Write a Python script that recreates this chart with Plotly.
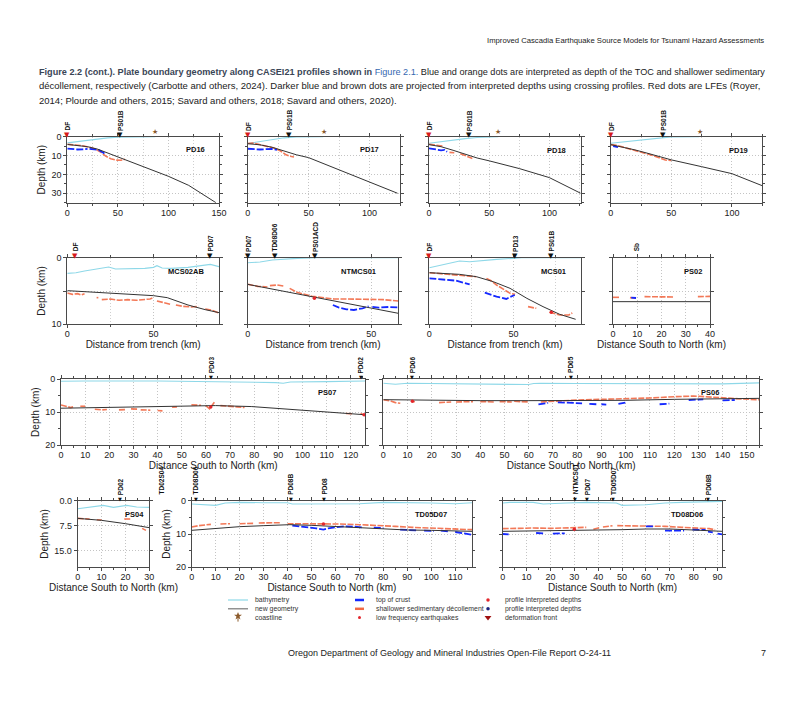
import plotly.graph_objects as go

W, H = 800, 703

# ---------------- data (km along profile, depth km) ----------------
# PD16
pd16_bathy_x = [0, 10, 20, 30, 40, 50, 60, 87]
pd16_bathy_d = [3.3, 2.6, 1.9, 1.2, 0.6, 0.2, 0.05, 0]
pd16_geom_x = [0, 10, 20, 30, 40, 50, 60, 80, 100, 120, 147]
pd16_geom_d = [4.1, 4.5, 5.3, 6.6, 8.6, 10.8, 12.9, 16.8, 21.0, 25.8, 35.0]
pd16_sed_x = [0, 8, 15, 22, 28, 33, 38, 43, 48, 53, 57]
pd16_sed_d = [4.0, 4.3, 4.8, 5.6, 6.6, 8.2, 10.3, 11.7, 12.4, 12.5, 12.0]
pd16_toc_x = [0, 5, 10, 15, 20, None, 22, 27, 31, 34, 37]
pd16_toc_d = [6.3, 6.6, 6.8, 6.7, 6.4, None, 6.5, 6.6, 7.0, 8.0, 9.0]
pd16_cross_names = ["DF", "PS01B"]
pd16_cross_x = [0, 52]
pd16_coast_x = [86.7]

# PD17
pd17_bathy_x = [0, 10, 20, 30, 40, 62]
pd17_bathy_d = [3.6, 2.6, 1.5, 0.6, 0.1, 0]
pd17_geom_x = [0, 10, 20, 25, 30, 40, 50, 75, 100, 123]
pd17_geom_d = [3.7, 4.3, 5.6, 6.6, 7.8, 9.6, 11.1, 17.5, 24.0, 30.0]
pd17_sed_x = [0, 4, 8, 12, 17, 22, 27, 31, 35, 38]
pd17_sed_d = [3.6, 3.4, 3.9, 4.6, 5.3, 6.1, 7.6, 9.4, 10.4, 10.8]
pd17_toc_x = [0, 5, 10, 15, 20, 24]
pd17_toc_d = [6.4, 6.6, 6.8, 6.6, 6.5, 7.0]
pd17_cross_names = ["DF", "PS01B"]
pd17_cross_x = [0, 34]
pd17_coast_x = [62.4]

# PD18
pd18_bathy_x = [0, 10, 20, 30, 40, 50, 57.6]
pd18_bathy_d = [3.5, 2.6, 1.7, 1.0, 0.4, 0.05, 0]
pd18_geom_x = [0, 10, 20, 30, 40, 50, 75, 100, 126]
pd18_geom_d = [4.2, 5.3, 7.2, 9.4, 11.3, 12.8, 16.9, 21.7, 30.0]
pd18_sed_x = [0, 4, 8, 12, None, 17, 21, None, 26, 30, 34, 36]
pd18_sed_d = [4.0, 4.3, 4.6, 5.0, None, 8.3, 8.5, None, 9.0, 9.8, 11.0, 11.5]
pd18_toc_x = [0, 5, 10, 13, 15]
pd18_toc_d = [6.2, 6.8, 7.2, 7.0, 8.0]
pd18_cross_names = ["DF", "PS01B"]
pd18_cross_x = [0, 33.2]
pd18_coast_x = [57.6]

# PD19
pd19_bathy_x = [0, 10, 20, 30, 40, 50, 73]
pd19_bathy_d = [3.5, 2.8, 2.0, 1.2, 0.6, 0.1, 0]
pd19_geom_x = [0, 10, 20, 30, 40, 50, 75, 100, 125]
pd19_geom_d = [4.2, 5.5, 7.0, 8.7, 10.5, 12.3, 15.9, 19.6, 26.0]
pd19_sed_x = [0, 5, 10, 15, 20, 25, 30, 35, 40, 45, 50]
pd19_sed_d = [4.2, 4.6, 5.5, 6.4, 7.1, 8.0, 9.2, 10.0, 11.2, 12.4, 12.6]
pd19_toc_x = [2, 4, 6]
pd19_toc_d = [5.0, 5.3, 5.5]
pd19_cross_names = ["DF", "PS01B"]
pd19_cross_x = [0, 43.5]
pd19_coast_x = [73.3]

# MCS02AB
mcs02ab_bathy_x = [0, 5, 10, 15, 20, 24, 28, 35, 45, 50, 52, 55, 60, 70, 80, 83, 88]
mcs02ab_bathy_d = [2.35, 2.25, 2.0, 1.75, 1.6, 1.4, 1.7, 1.65, 1.6, 1.45, 1.2, 1.55, 1.6, 1.45, 1.1, 1.0, 1.35]
mcs02ab_geom_x = [0, 20, 40, 50, 58, 65, 70, 80, 88]
mcs02ab_geom_d = [4.95, 5.25, 5.55, 5.7, 6.0, 6.6, 7.1, 7.8, 8.25]
mcs02ab_sed_x = [0, 3, 6, 8, 10, None, 17, 18, None, 20, 25, 30, 35, 40, 45, 48, 50, None,
                 52, 56, 60, None, 63, 67, 72, 76, None, 80, 84, 88]
mcs02ab_sed_d = [5.3, 5.5, 5.4, 5.6, 5.4, None, 6.0, 6.0, None, 6.3, 6.2, 6.4, 6.3, 6.4, 6.3, 6.2, 6.0, None,
                 6.5, 6.8, 7.0, None, 7.1, 7.3, 7.4, 7.3, None, 7.7, 7.9, 8.3]
mcs02ab_cross_names = ["DF", "PD07"]
mcs02ab_cross_x = [4.5, 83]

# NTMCS01
ntmcs01_bathy_x = [0, 5, 10, 15, 20, 28, 61]
ntmcs01_bathy_d = [0.75, 0.65, 0.35, 0.2, 0.1, 0.0, 0.0]
ntmcs01_geom_x = [0, 30, 61]
ntmcs01_geom_d = [4.0, 6.1, 8.35]
ntmcs01_sed_x = [0, 4, 8, None, 9, 12, 15, None, 17, 20, 26, 30, 35, 40, 45, 50, 55, 61]
ntmcs01_sed_d = [4.0, 4.3, 4.4, None, 4.2, 4.1, 4.3, None, 4.6, 5.2, 5.8, 6.0, 6.2, 6.2, 6.2, 6.2, 6.3, 6.5]
ntmcs01_toc_x = [34.5, 37, 40, 43, 46.5, 49, None, 50.5, 53, 57, 61]
ntmcs01_toc_d = [7.1, 7.5, 7.75, 7.85, 7.6, 7.3, None, 7.4, 7.5, 7.4, 7.45]
ntmcs01_lfe_x = [27]
ntmcs01_lfe_d = [6.1]
ntmcs01_cross_names = ["PD07", "TD08D06", "PS01ACD"]
ntmcs01_cross_x = [0, 11, 27.4]

# MCS01
mcs01_bathy_x = [0, 6, 12, 18, 24, 32, 40, 50, 55, 90]
mcs01_bathy_d = [1.5, 1.2, 0.85, 0.5, 0.6, 0.4, 0.25, 0.1, 0.0, 0.0]
mcs01_geom_x = [0, 18, 28, 38, 48, 58, 67.6, 77.5, 87]
mcs01_geom_d = [2.25, 2.5, 2.85, 3.6, 4.6, 6.1, 7.35, 8.5, 9.25]
mcs01_sed_x = [0, 8, 18, 28, None, 34, 37, 40, 43, 48, 51, None, 58.7, 61, 63.6, None,
               71.5, 74, 77.5, 80, 83, 85]
mcs01_sed_d = [2.25, 2.4, 2.6, 2.85, None, 3.1, 3.5, 4.1, 4.6, 5.35, 5.5, None, 7.35, 7.5, 7.6, None,
               8.2, 8.4, 8.6, 8.6, 8.6, 8.3]
mcs01_toc_x = [0, 8, 16, 24, None, 33, 37, 40, 43, 45.8, 48, 50.8]
mcs01_toc_d = [3.1, 3.25, 3.45, 4.0, None, 5.25, 5.6, 5.85, 6.0, 6.2, 5.9, 5.6]
mcs01_lfe_x = [72.5]
mcs01_lfe_d = [8.2]
mcs01_cross_names = ["DF", "PD13", "PS01B"]
mcs01_cross_x = [0, 50.8, 72.5]

# PS02
ps02_geom_x = [0, 20, 40]
ps02_geom_d = [6.6, 6.6, 6.6]
ps02_sed_x = [0, 3, None, 7, 10, None, 13, 18, 25, None, 35, 40]
ps02_sed_d = [5.95, 5.95, None, 6.0, 6.1, None, 5.85, 5.85, 5.9, None, 5.85, 5.8]
ps02_toc_x = [7.5, 9.5]
ps02_toc_d = [6.0, 6.05]
ps02_cross_names = ["Sb"]
ps02_cross_x = [9.75]

# PS07
ps07_bathy_x = [0, 5, 10, 40, 60, 85, 89, 92, 95, 110, 126]
ps07_bathy_d = [0.6, 0.5, 0.5, 0.5, 0.7, 0.8, 1.0, 1.2, 0.8, 0.7, 0.5]
ps07_geom_x = [0, 20, 40, 52, 64, 79, 90, 100, 115, 126]
ps07_geom_d = [8.8, 8.6, 8.4, 8.1, 8.0, 8.3, 8.9, 9.5, 10.2, 10.8]
ps07_sed_x = [0, 2, 4, 5, None, 8, 10, None, 14, 17, 19, None, 24, 27, None, 29, 32, None, 33, 37, None,
              40, 42, None, 46, 48, None, 54, 58, None, 60, 61.5, 63.5, None, 66, 70, 73, 76, None,
              118, 121, None, 124, 126]
ps07_sed_d = [7.8, 8.3, 8.6, 8.4, None, 8.2, 8.2, None, 9.1, 9.3, 9.2, None, 9.3, 9.2, None, 9.0, 9.1, None, 9.3, 9.4, None,
              9.5, 9.6, None, 8.5, 8.4, None, 7.8, 7.9, None, 8.0, 9.0, 7.0, None, 8.0, 8.1, 8.4, 8.6, None,
              10.4, 10.5, None, 10.4, 11.0]
ps07_lfe_x = [62, 125.5]
ps07_lfe_d = [8.4, 10.8]
ps07_cross_names = ["PD03", "PD02"]
ps07_cross_x = [62.3, 124.1]

# PS06
ps06_bathy_x = [0, 5, 10, 30, 50, 60, 62, 65, 80, 100, 120, 140, 155]
ps06_bathy_d = [1.2, 1.5, 1.2, 1.3, 1.4, 1.6, 1.3, 1.2, 1.3, 1.3, 1.4, 1.4, 1.1]
ps06_geom_x = [0, 20, 40, 60, 80, 100, 120, 140, 155]
ps06_geom_d = [6.2, 6.4, 6.5, 6.5, 6.5, 6.4, 6.1, 5.8, 5.8]
ps06_sed_x = [0, 3, 5, 7, None, 12, 13, None, 23, 28, None, 30, 37, None, 40, 46, None, 48, 53, None, 54, 60, None,
              65, 72, 80, 90, 100, 110, 120, 128, 133, 140, 148, 155]
ps06_sed_d = [6.2, 6.6, 7.1, 7.3, None, 6.8, 6.8, None, 7.1, 6.9, None, 6.9, 6.8, None, 6.8, 6.9, None, 6.8, 6.9, None, 6.7, 6.9, None,
              6.9, 6.6, 6.3, 6.1, 6.0, 5.7, 5.3, 5.1, 5.3, 5.7, 6.0, 6.2]
ps06_toc_x = [64, 68, None, 72, 76, 80, 82, None, 85, 88, None, 90, 92, None, 97, 100, None,
              114, 118, None, 126, 132, None, 140, 145]
ps06_toc_d = [7.6, 7.2, None, 7.0, 7.2, 7.3, 7.3, None, 7.5, 7.6, None, 7.6, 7.7, None, 7.5, 7.1, None,
              7.6, 7.4, None, 6.3, 6.1, None, 6.4, 6.3]
ps06_lfe_x = [12]
ps06_lfe_d = [6.7]
ps06_cross_names = ["PD06", "PD05"]
ps06_cross_x = [12, 77.5]

# PS04
ps04_bathy_x = [0, 5, 10.7, 15, 20.5, 24.7, 30]
ps04_bathy_d = [2.4, 2.0, 1.4, 2.0, 1.4, 1.9, 2.0]
ps04_geom_x = [0, 10, 20, 30]
ps04_geom_d = [5.3, 5.9, 6.9, 8.1]
ps04_sed_x = [0, 2, 5, None, 8, 10, None, 19.5, 22, None, 27, 28.6]
ps04_sed_d = [5.3, 5.4, 5.5, None, 5.7, 5.8, None, 5.5, 5.5, None, 8.3, 8.9]
ps04_cross_names = ["PD02"]
ps04_cross_x = [17.7]

# TD05D07
td05d07_bathy_x = [0, 6, 10, 14, 20, 30, 40, 42, 55, 70, 80, 90, 100, 110, 117]
td05d07_bathy_d = [1.0, 1.2, 1.4, 0.7, 0.5, 0.6, 0.6, 1.0, 1.0, 0.9, 0.5, 0.5, 0.7, 0.9, 0.6]
td05d07_geom_x = [0, 10, 20, 30, 41, 50, 60, 70, 80, 90, 100, 117]
td05d07_geom_d = [8.9, 8.3, 7.8, 7.5, 7.2, 7.4, 7.8, 8.1, 8.5, 8.8, 8.9, 9.2]
td05d07_sed_x = [0, 3, 8, None, 12, 16, None, 20, 26, None, 28, 33, 37, None,
                 40, 47, 55, 62, 70, 78, 85, 92, 100, 108, 117]
td05d07_sed_d = [7.9, 7.5, 7.1, None, 7.0, 6.9, None, 6.9, 6.8, None, 6.7, 6.6, 6.6, None,
                 6.9, 6.9, 6.9, 7.0, 7.2, 7.4, 7.7, 8.0, 8.2, 8.5, 8.7]
td05d07_toc_x = [42, 45, 48, 52, 55, 57, 60, 64, 68, 71, None, 76, 80, None, 87, 91, 94, None,
                 97, 101, None, 104, 107, None, 110, 114, 117]
td05d07_toc_d = [7.5, 7.7, 8.0, 8.3, 8.7, 8.3, 8.0, 7.7, 7.8, 8.0, None, 8.1, 8.2, None, 8.7, 8.8, 8.9, None,
                 9.0, 9.1, None, 9.0, 9.2, None, 9.4, 9.8, 10.2]
td05d07_lfe_x = [55]
td05d07_lfe_d = [7.0]
td05d07_cross_names = ["TD02S04", "TD08D06", "PD08B", "PD08"]
td05d07_cross_x = [-12.5, 1.7, 41.3, 55.4]

# TD08D06
td08d06_bathy_x = [0, 3, 12.8, 17, 26.7, 35, 47.6, 50, 60, 68, 75, 92]
td08d06_bathy_d = [0.7, 0.5, 0.5, 1.0, 0.7, 0.5, 0.7, 1.4, 1.2, 0.7, 0.5, 0.2]
td08d06_geom_x = [0, 30, 50, 60, 70, 80, 92]
td08d06_geom_d = [9.2, 9.0, 8.7, 8.5, 8.5, 8.8, 9.2]
td08d06_sed_x = [0, 6, 12.8, 20, 28, 35, None, 38, 40.6, None, 42, 46, None,
                 48, 55, 61.5, 68, 75, 81, 86.5, 89]
td08d06_sed_d = [8.4, 8.3, 8.2, 8.3, 8.2, 8.0, None, 8.6, 8.1, None, 7.9, 7.5, None,
                 7.5, 7.5, 7.5, 7.7, 8.0, 8.2, 8.4, 8.7]
td08d06_toc_x = [0, 2.5, None, 14, 17, None, 21, 26, None, 60, 63, None, 68, 72, 76, None,
                 79.5, 85, None, 86, 88, None, 90, 92]
td08d06_toc_d = [10.0, 10.1, None, 9.7, 9.8, None, 9.9, 9.8, None, 7.7, 7.7, None, 9.0, 9.1, 9.0, None,
                 8.7, 8.8, None, 9.3, 9.5, None, 9.9, 10.1]
td08d06_lfe_x = [30]
td08d06_lfe_d = [8.6]
td08d06_cross_names = ["NTMCS01", "PD07", "TD05D07", "PD08B"]
td08d06_cross_x = [30.3, 35.3, 46.3, 86]

legend_labels = ["bathymetry", "new geometry", "coastline",
                 "top of crust", "shallower sedimentary décollement", "low frequency earthquakes",
                 "profile interpreted depths", "profile interpreted depths", "deformation front"]

# ---------------- styles ----------------
BATHY = '#8ed8e8'
GEOM = '#333333'
TOC = '#1428ff'
SED = '#f26a45'
LFE = '#e3262c'
DFC = '#d7191c'
COAST = '#8b5a2b'
FONT = 'Liberation Sans, Arial, sans-serif'
SYM = 'DejaVu Sans, sans-serif'

R1 = (136.7, 202.7)
R2 = (257.7, 324.3)
R3 = (379.3, 445.0)
R4 = (500.7, 567.3)
XT_TRENCH = "Distance from trench (km)"
XT_SN = "Distance South to North (km)"

panels = [
    dict(k='pd16', name='PD16', box=(67.3, 219.0) + R1, xr=[0, 150], yr=[35, 0], xd=50, xm=25,
         yv=[0, 10, 20, 30], yt=None, ym=5, ylab=True, xtitle=None, nm=(127, 7)),
    dict(k='pd17', name='PD17', box=(247.7, 400.0) + R1, xr=[0, 125], yr=[35, 0], xd=50, xm=25,
         yv=[0, 10, 20, 30], yt=None, ym=5, ylab=False, xtitle=None, nm=(100, 7)),
    dict(k='pd18', name='PD18', box=(429.0, 580.7) + R1, xr=[0, 126], yr=[35, 0], xd=50, xm=25,
         yv=[0, 10, 20, 30], yt=None, ym=5, ylab=False, xtitle=None, nm=(106, 7.4)),
    dict(k='pd19', name='PD19', box=(610.7, 762.3) + R1, xr=[0, 125], yr=[35, 0], xd=50, xm=25,
         yv=[0, 10, 20, 30], yt=None, ym=5, ylab=False, xtitle=None, nm=(105, 7.4)),
    dict(k='mcs02ab', name='MCS02AB', box=(67.3, 219.0) + R2, xr=[0, 88], yr=[10, 0], xd=50, xm=25,
         yv=[0, 5, 10], yt=['0', '', '10'], ym=None, ylab=True, xtitle=XT_TRENCH, nm=(69, 2.1)),
    dict(k='ntmcs01', name='NTMCS01', box=(247.7, 398.3) + R2, xr=[0, 61], yr=[10, 0], xd=50, xm=25,
         yv=[0, 5, 10], yt=None, ym=None, ylab=False, xtitle=XT_TRENCH, nm=(44.8, 2.1)),
    dict(k='mcs01', name='MCS01', box=(429.3, 580.7) + R2, xr=[0, 90], yr=[10, 0], xd=50, xm=25,
         yv=[0, 5, 10], yt=None, ym=None, ylab=False, xtitle=XT_TRENCH, nm=(73.7, 2.1)),
    dict(k='ps02', name='PS02', box=(613.0, 710.0) + R2, xr=[0, 40], yr=[10, 0], xd=10, xm=5,
         yv=[0, 5, 10], yt=None, ym=None, ylab=False, xtitle=XT_SN, nm=(32.9, 2.0)),
    dict(k='ps07', name='PS07', box=(61.0, 365.3) + R3, xr=[0, 126], yr=[20, 0], xd=10, xm=5,
         yv=[0, 10, 20], yt=None, ym=5, ylab=True, xtitle=XT_SN, nm=(110, 4.1)),
    dict(k='ps06', name='PS06', box=(383.3, 759.0) + R3, xr=[0, 155], yr=[20, 0], xd=10, xm=5,
         yv=[0, 10, 20], yt=None, ym=5, ylab=False, xtitle=XT_SN, nm=(134.8, 4.1)),
    dict(k='ps04', name='PS04', box=(77.7, 149.3) + R4, xr=[0, 30], yr=[20, 0], xd=10, xm=5,
         yv=[0, 7.5, 15], yt=['0.0', '7.5', '15.0'], ym=None, ylab=True, xtitle=XT_SN, nm=(23.6, 4.0)),
    dict(k='td05d07', name='TD05D07', box=(191.7, 472.0) + R4, xr=[0, 117], yr=[20, 0], xd=10, xm=5,
         yv=[0, 10, 20], yt=None, ym=5, ylab=True, xtitle=XT_SN, nm=(100, 4.0)),
    dict(k='td08d06', name='TD08D06', box=(502.7, 722.3) + R4, xr=[0, 92], yr=[20, 0], xd=10, xm=5,
         yv=[0, 10, 20], yt=None, ym=5, ylab=False, xtitle=XT_SN, nm=(77, 4.0)),
]

G = globals()
fig = go.Figure()
layout = {}
annotations = []


def get(k, suffix):
    return G.get(f"{k}_{suffix}")


GRID = dict(showgrid=True, gridcolor='#c4c4c4', griddash='1px,2px', gridwidth=0.8)

for i, p in enumerate(panels, start=1):
    L, R, T, B = p['box']
    xn = 'x' if i == 1 else f'x{i}'
    yn = 'y' if i == 1 else f'y{i}'
    xkey = 'xaxis' if i == 1 else f'xaxis{i}'
    ykey = 'yaxis' if i == 1 else f'yaxis{i}'
    common = dict(showline=True, linecolor='#4a4a4a', linewidth=1, mirror='allticks', ticks='outside',
                  ticklen=3, tickcolor='#4a4a4a', tickwidth=1, zeroline=False, fixedrange=True,
                  automargin=False, tickfont=dict(family=FONT, size=9, color='#222'), **GRID)
    xa = dict(common, domain=[L / W, R / W], range=p['xr'], anchor=yn, tick0=0, dtick=p['xd'],
              ticklabelstandoff=-2,
              minor=dict(dtick=p['xm'], ticks='outside', ticklen=2, tickcolor='#4a4a4a',
                         showgrid=(p['xd'] == 50), gridcolor='#cfcfcf', griddash='1px,2px', gridwidth=0.8))
    if p['xtitle']:
        xa['title'] = dict(text=p['xtitle'], font=dict(family=FONT, size=10, color='#222'), standoff=1)
    ya = dict(common, domain=[1 - B / H, 1 - T / H], range=p['yr'], anchor=xn,
              tickmode='array', tickvals=p['yv'], showticklabels=(p['ylab']))
    if p['yt']:
        ya['ticktext'] = p['yt']
    if p['ym']:
        ya['minor'] = dict(dtick=p['ym'], ticks='outside', ticklen=2, tickcolor='#4a4a4a', showgrid=False)
    if p['ylab']:
        ya['title'] = dict(text='Depth (km)', font=dict(family=FONT, size=10, color='#222'), standoff=3)
    layout[xkey] = xa
    layout[ykey] = ya

    k = p['k']

    # bathymetry
    if get(k, 'bathy_x') is not None:
        fig.add_trace(go.Scatter(x=get(k, 'bathy_x'), y=get(k, 'bathy_d'), xaxis=xn, yaxis=yn, mode='lines',
                                 line=dict(color=BATHY, width=1.1), showlegend=False, hoverinfo='skip',
                                 cliponaxis=False))
    # sedimentary decollement
    fig.add_trace(go.Scatter(x=get(k, 'sed_x'), y=get(k, 'sed_d'), xaxis=xn, yaxis=yn, mode='lines',
                             line=dict(color=SED, width=1.6, dash='6px,1.5px'), opacity=0.9,
                             showlegend=False, hoverinfo='skip', connectgaps=False))
    # top of crust
    if get(k, 'toc_x') is not None:
        fig.add_trace(go.Scatter(x=get(k, 'toc_x'), y=get(k, 'toc_d'), xaxis=xn, yaxis=yn, mode='lines',
                                 line=dict(color=TOC, width=1.8, dash='7px,2px'),
                                 showlegend=False, hoverinfo='skip', connectgaps=False))
    # new geometry
    fig.add_trace(go.Scatter(x=get(k, 'geom_x'), y=get(k, 'geom_d'), xaxis=xn, yaxis=yn, mode='lines',
                             line=dict(color=GEOM, width=1.0), showlegend=False, hoverinfo='skip'))
    # LFEs
    if get(k, 'lfe_x') is not None:
        fig.add_trace(go.Scatter(x=get(k, 'lfe_x'), y=get(k, 'lfe_d'), xaxis=xn, yaxis=yn, mode='markers',
                                 marker=dict(color=LFE, size=3.5), showlegend=False, hoverinfo='skip'))
    # crossing markers and labels above the panel
    names = get(k, 'cross_names')
    xs = get(k, 'cross_x')
    tri = 7 if i <= 8 else 5
    for nme, xv in zip(names, xs):
        if p['xr'][0] <= xv <= p['xr'][1]:
            ref = dict(xref=xn, x=xv)
        else:  # label lying outside the axis range: place it on the page
            ref = dict(xref='paper', x=(L + (xv - p['xr'][0]) * (R - L) / (p['xr'][1] - p['xr'][0])) / W)
        if nme != 'Sb' and ref['xref'] != 'paper':
            annotations.append(dict(ref, yref='paper', y=1 - (T - 2.2) / H, text='▼', showarrow=False,
                                    xanchor='center', yanchor='middle', borderpad=0,
                                    font=dict(family=SYM, size=tri, color=DFC if nme == 'DF' else '#111')))
        annotations.append(dict(ref, yref='paper', y=1 - (T - 5.0) / H, text=f'<b>{nme}</b>',
                                textangle=-90, xanchor='center', yanchor='bottom', showarrow=False,
                                borderpad=0, font=dict(family=FONT, size=6.5, color='#111')))
    if get(k, 'coast_x') is not None:
        for cx in get(k, 'coast_x'):
            annotations.append(dict(xref=xn, x=cx, yref='paper', y=1 - (T - 5.0) / H, text='★',
                                    showarrow=False, xanchor='center', yanchor='middle', borderpad=0,
                                    font=dict(family=SYM, size=7, color=COAST)))
    # panel name
    annotations.append(dict(xref=xn, yref=yn, x=p['nm'][0], y=p['nm'][1], text=f"<b>{p['name']}</b>",
                            showarrow=False, font=dict(family=FONT, size=7.5, color='#111')))

# ---------------- legend (overlay axis in page pixels) ----------------
NL = len(panels) + 1
ox, oy = f'x{NL}', f'y{NL}'
layout[f'xaxis{NL}'] = dict(domain=[0, 1], range=[0, W], visible=False, fixedrange=True, anchor=oy)
layout[f'yaxis{NL}'] = dict(domain=[0, 1], range=[H, 0], visible=False, fixedrange=True, anchor=ox)

rows_y = [600.0, 608.8, 617.6]
col_x = [(228, 248, 254), (355, 364, 374.7), (488, 488, 503.7)]


def seg(x0, x1, y, color, width):
    fig.add_trace(go.Scatter(x=[x0, x1], y=[y, y], xaxis=ox, yaxis=oy, mode='lines',
                             line=dict(color=color, width=width), showlegend=False, hoverinfo='skip'))


def dot(x, y, color, size, symbol='circle'):
    fig.add_trace(go.Scatter(x=[x], y=[y], xaxis=ox, yaxis=oy, mode='markers',
                             marker=dict(color=color, size=size, symbol=symbol, line=dict(width=0)),
                             showlegend=False, hoverinfo='skip'))


seg(228, 248, rows_y[0], BATHY, 1.2)
seg(228, 248, rows_y[1], '#777777', 1.2)
fig.add_trace(go.Scatter(x=[238, 238], y=[rows_y[2] - 4, rows_y[2] + 4], xaxis=ox, yaxis=oy, mode='lines',
                         line=dict(color=COAST, width=1), showlegend=False, hoverinfo='skip'))
dot(238, rows_y[2] - 1.5, COAST, 6, 'star')
seg(355, 364, rows_y[0], TOC, 2.5)
seg(355, 364, rows_y[1], SED, 2.5)
dot(359.5, rows_y[2], LFE, 3)
dot(488, rows_y[0], LFE, 3.5)
dot(488, rows_y[1], '#1a237e', 3.5)
dot(488, rows_y[2], '#a01010', 6, 'triangle-down')

for j, lab in enumerate(legend_labels):
    c, r = divmod(j, 3)
    annotations.append(dict(xref='paper', yref='paper', x=col_x[c][2] / W, y=1 - rows_y[r] / H,
                            text=lab, xanchor='left', yanchor='middle', showarrow=False, borderpad=0,
                            font=dict(family=FONT, size=6.9, color='#333')))

# ---------------- page texts ----------------
annotations.append(dict(xref='paper', yref='paper', x=766 / W, y=1 - 40 / H, xanchor='right', yanchor='middle',
                        text='Improved Cascadia Earthquake Source Models for Tsunami Hazard Assessments',
                        showarrow=False, font=dict(family=FONT, size=7.7, color='#222')))
cap_lines = [
    "<b><span style='color:#3a4556'>Figure 2.2 (cont.). Plate boundary geometry along CASEI21 profiles shown in</span></b> "
    "<span style='color:#3568b0'>Figure 2.1.</span> Blue and orange dots are interpreted as depth of the TOC and shallower sedimentary",
    "décollement, respectively (Carbotte and others, 2024). Darker blue and brown dots are projected from interpreted depths using crossing profiles. Red dots are LFEs (Royer,",
    "2014; Plourde and others, 2015; Savard and others, 2018; Savard and others, 2020).",
]
cap_sizes = [9.15, 9.5, 9.5]
for yy, t, fs in zip([72, 86, 100], cap_lines, cap_sizes):
    annotations.append(dict(xref='paper', yref='paper', x=37 / W, y=1 - yy / H, xanchor='left', yanchor='middle',
                            text=t, showarrow=False, font=dict(family=FONT, size=fs, color='#222')))
annotations.append(dict(xref='paper', yref='paper', x=449 / W, y=1 - 653 / H, xanchor='center', yanchor='middle',
                        text='Oregon Department of Geology and Mineral Industries Open-File Report O-24-11',
                        showarrow=False, font=dict(family=FONT, size=9.0, color='#222')))
annotations.append(dict(xref='paper', yref='paper', x=763 / W, y=1 - 653 / H, xanchor='center', yanchor='middle',
                        text='7', showarrow=False, font=dict(family=FONT, size=9.0, color='#222')))

fig.update_layout(width=W, height=H, margin=dict(l=0, r=0, t=0, b=0, autoexpand=False), paper_bgcolor='white',
                  plot_bgcolor='rgba(0,0,0,0)', showlegend=False, annotations=annotations,
                  font=dict(family=FONT), **layout)
fig.write_html("out.html", config={'displayModeBar': False},
               post_script="document.body.style.margin='0';document.body.style.padding='0';")
